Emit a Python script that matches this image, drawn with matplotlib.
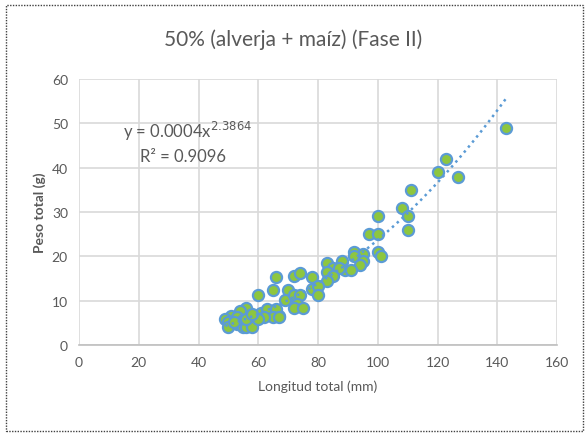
import matplotlib
matplotlib.use("Agg")
import matplotlib.pyplot as plt
import numpy as np
from matplotlib.patches import Rectangle

title = "50% (alverja + maíz) (Fase II)"
x_label = "Longitud total (mm)"
y_label = "Peso total (g)"
x_ticks = [0, 20, 40, 60, 80, 100, 120, 140, 160]
y_ticks = [0, 10, 20, 30, 40, 50, 60]

longitud = [143, 123, 120, 127, 111, 108, 110, 100, 110, 97, 100, 100, 101,
            92, 95, 92, 95, 94, 88, 89, 91, 83, 85, 87, 83, 85, 83, 78, 78,
            80, 80, 72, 74, 70, 69, 72, 74, 73, 72, 75, 67, 66, 65, 60, 56,
            54, 51, 49, 50, 50, 53, 58, 61, 63, 66, 65, 62, 67, 55, 53, 55,
            56, 58, 52, 56, 60, 58]
peso = [49, 42, 39, 38, 35, 31, 29, 29, 26, 25, 25, 21, 20,
        21, 20.5, 20, 19, 18, 19, 17, 17, 18.5, 17.3, 17.3, 16.4, 15.5, 14.4, 15.3, 12.6,
        13.3, 11.2, 15.5, 16.2, 12.4, 10.1, 11.2, 11.2, 9.3, 8.3, 8.3, 6.5, 15.3, 12.4, 11.2, 8.3,
        7.6, 6.5, 5.9, 5.2, 4.0, 6.3, 6.5, 7.2, 8.1, 8.1, 6.3, 6.3, 6.3, 5.6, 4.7, 4.0,
        4.0, 4.0, 5.2, 5.9, 5.9, 7.0]

coef_a = 0.0004
coef_b = 2.3864
r2 = 0.9096

plt.rcParams['font.family'] = ['Lato', 'DejaVu Sans']
txt = '#595959'

fig = plt.figure(figsize=(5.86, 4.35), dpi=100)
ax = fig.add_axes([79/586, 1-346/435, (557-79)/586, (346-80)/435])

ax.set_xlim(0, 160)
ax.set_ylim(0, 60)
ax.set_xticks(x_ticks)
ax.set_yticks(y_ticks)
ax.grid(True, color='#d9d9d9', linewidth=1.2)
ax.set_axisbelow(True)
for s in ['top', 'right', 'left']:
    ax.spines[s].set_visible(False)
ax.spines['bottom'].set_color('#bfbfbf')
ax.spines['bottom'].set_linewidth(1.2)
ax.tick_params(length=0, labelsize=10, colors=txt, pad=8)

ax.scatter(longitud, peso, s=64, facecolor='#8dc63f', edgecolor='#5b9bd5',
           linewidth=1.6, zorder=3)

xs = np.linspace(min(longitud), max(longitud), 200)
ax.plot(xs, coef_a * xs ** coef_b, linestyle=(0, (1, 1.6)), color='#5b9bd5',
        linewidth=1.8, zorder=4)

ax.text(14.7, 48.3, f"y = {coef_a}x$^{{{coef_b}}}$", fontsize=12, color=txt,
        ha='left', va='center')
ax.text(20.3, 42.7, f"R² = {r2}", fontsize=12, color=txt, ha='left', va='center')

ax.set_xlabel(x_label, fontsize=10, color=txt, labelpad=8)
ax.set_ylabel(y_label, fontsize=10, color=txt, fontweight='bold', labelpad=4)
fig.text(0.5, 1-40/435, title, fontsize=15, color=txt, ha='center', va='center')

fig.patches.append(Rectangle((6/586, 3/435), 577/586, 426/435, transform=fig.transFigure,
                             fill=False, edgecolor='#404040', linestyle=(0, (1, 1)),
                             linewidth=1))

fig.savefig('out.png', dpi=100)
